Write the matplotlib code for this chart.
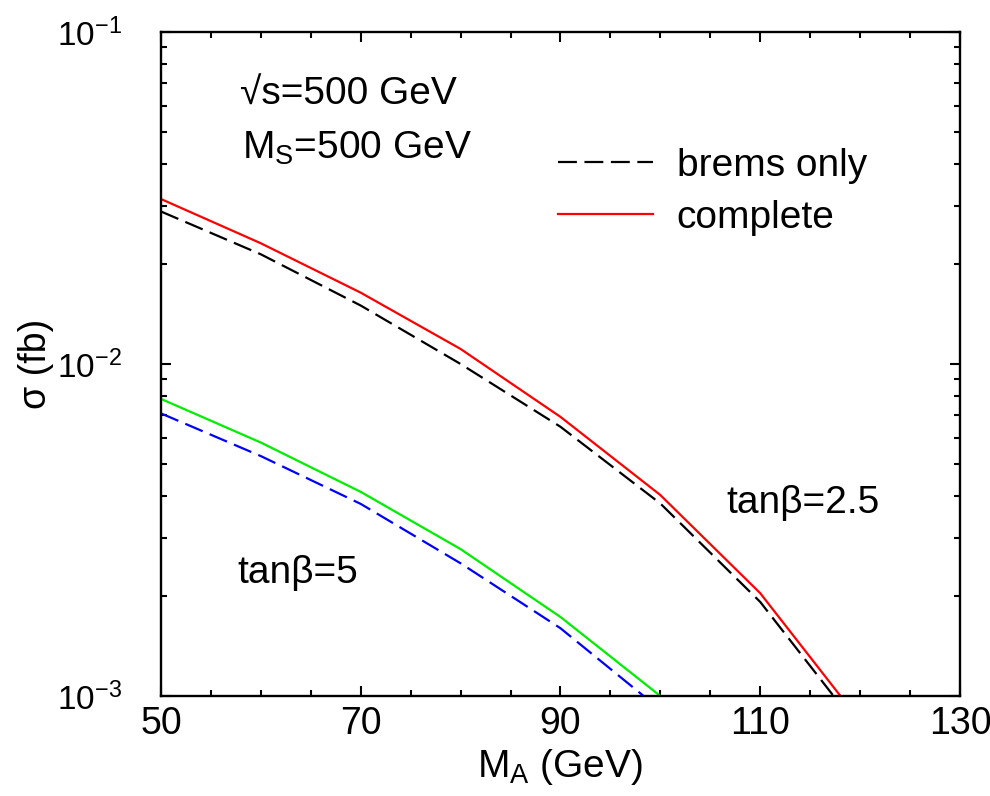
import matplotlib
matplotlib.use("Agg")
import matplotlib.pyplot as plt
from matplotlib.ticker import MultipleLocator, LogLocator, NullFormatter

plt.rcParams['font.family'] = ['Liberation Sans', 'DejaVu Sans']
plt.rcParams['mathtext.fontset'] = 'custom'
plt.rcParams['mathtext.rm'] = 'Liberation Sans'
plt.rcParams['mathtext.it'] = 'Liberation Sans'
plt.rcParams['mathtext.default'] = 'regular'

# M_A grid (GeV)
ma_25 = [50, 60, 70, 80, 90, 100, 110, 120]
ma_5 = [50, 60, 70, 80, 90, 100]

# cross sections (fb), tan(beta) = 2.5
complete_25 = [0.0314, 0.0231, 0.0164, 0.0111, 0.00693, 0.00403, 0.00204, 0.00084]
brems_25 = [0.0288, 0.0214, 0.0150, 0.0100, 0.00647, 0.00380, 0.00192, 0.00079]

# cross sections (fb), tan(beta) = 5
complete_5 = [0.00785, 0.00580, 0.00412, 0.00277, 0.00173, 0.00100]
brems_5 = [0.00710, 0.00528, 0.00379, 0.00251, 0.00160, 0.00091]

x_ticks = [50, 70, 90, 110, 130]
legend_labels = ["brems only", "complete"]

fig = plt.figure(figsize=(9.9, 7.96), dpi=100)
ax = fig.add_axes([0.1626, 0.1256, 0.8071, 0.8342])

lw = 1.6
dash = (0, (8.5, 3.4))
l_brems, = ax.plot(ma_25, brems_25, color='black', lw=lw, linestyle=dash)
l_comp, = ax.plot(ma_25, complete_25, color='#ff0000', lw=lw)
ax.plot(ma_5, brems_5, color='#0000ff', lw=lw, linestyle=dash)
ax.plot(ma_5, complete_5, color='#00ee00', lw=lw)

ax.set_yscale('log')
ax.set_xlim(50, 130)
ax.set_ylim(1e-3, 1e-1)

ax.set_xticks(x_ticks)
ax.set_xticklabels([str(v) for v in x_ticks])
ax.xaxis.set_minor_locator(MultipleLocator(5))
ax.yaxis.set_major_locator(LogLocator(base=10))
ax.yaxis.set_minor_locator(LogLocator(base=10, subs=range(2, 10)))
ax.yaxis.set_minor_formatter(NullFormatter())

ax.tick_params(which='both', direction='in', top=True, right=True, width=1.5)
ax.tick_params(which='major', length=7.5)
ax.tick_params(which='minor', length=4)
ax.tick_params(axis='x', which='major', labelsize=27, pad=7)
ax.tick_params(axis='y', which='major', labelsize=24, pad=28)
for sp in ax.spines.values():
    sp.set_linewidth(1.7)

ax.set_xlabel(r"M$_\mathrm{A}$ (GeV)", fontsize=28, labelpad=4)
ax.set_ylabel("σ (fb)", fontsize=27, labelpad=2)

ax.text(0.099, 0.890, "√s=500 GeV", transform=ax.transAxes, fontsize=28,
        va='baseline', ha='left')
ax.text(0.101, 0.809, r"M$_\mathrm{S}$=500 GeV", transform=ax.transAxes, fontsize=28,
        va='baseline', ha='left')
ax.text(0.708, 0.276, "tanβ=2.5", transform=ax.transAxes, fontsize=28,
        va='baseline', ha='left')
ax.text(0.096, 0.170, "tanβ=5", transform=ax.transAxes, fontsize=28,
        va='baseline', ha='left')

ax.legend([l_brems, l_comp], legend_labels, loc='upper left',
          bbox_to_anchor=(0.497, 0.826), frameon=False, fontsize=28,
          handlelength=2.45, handletextpad=0.6, labelspacing=0.42,
          borderpad=0, borderaxespad=0)

fig.savefig("out.png", dpi=100)
